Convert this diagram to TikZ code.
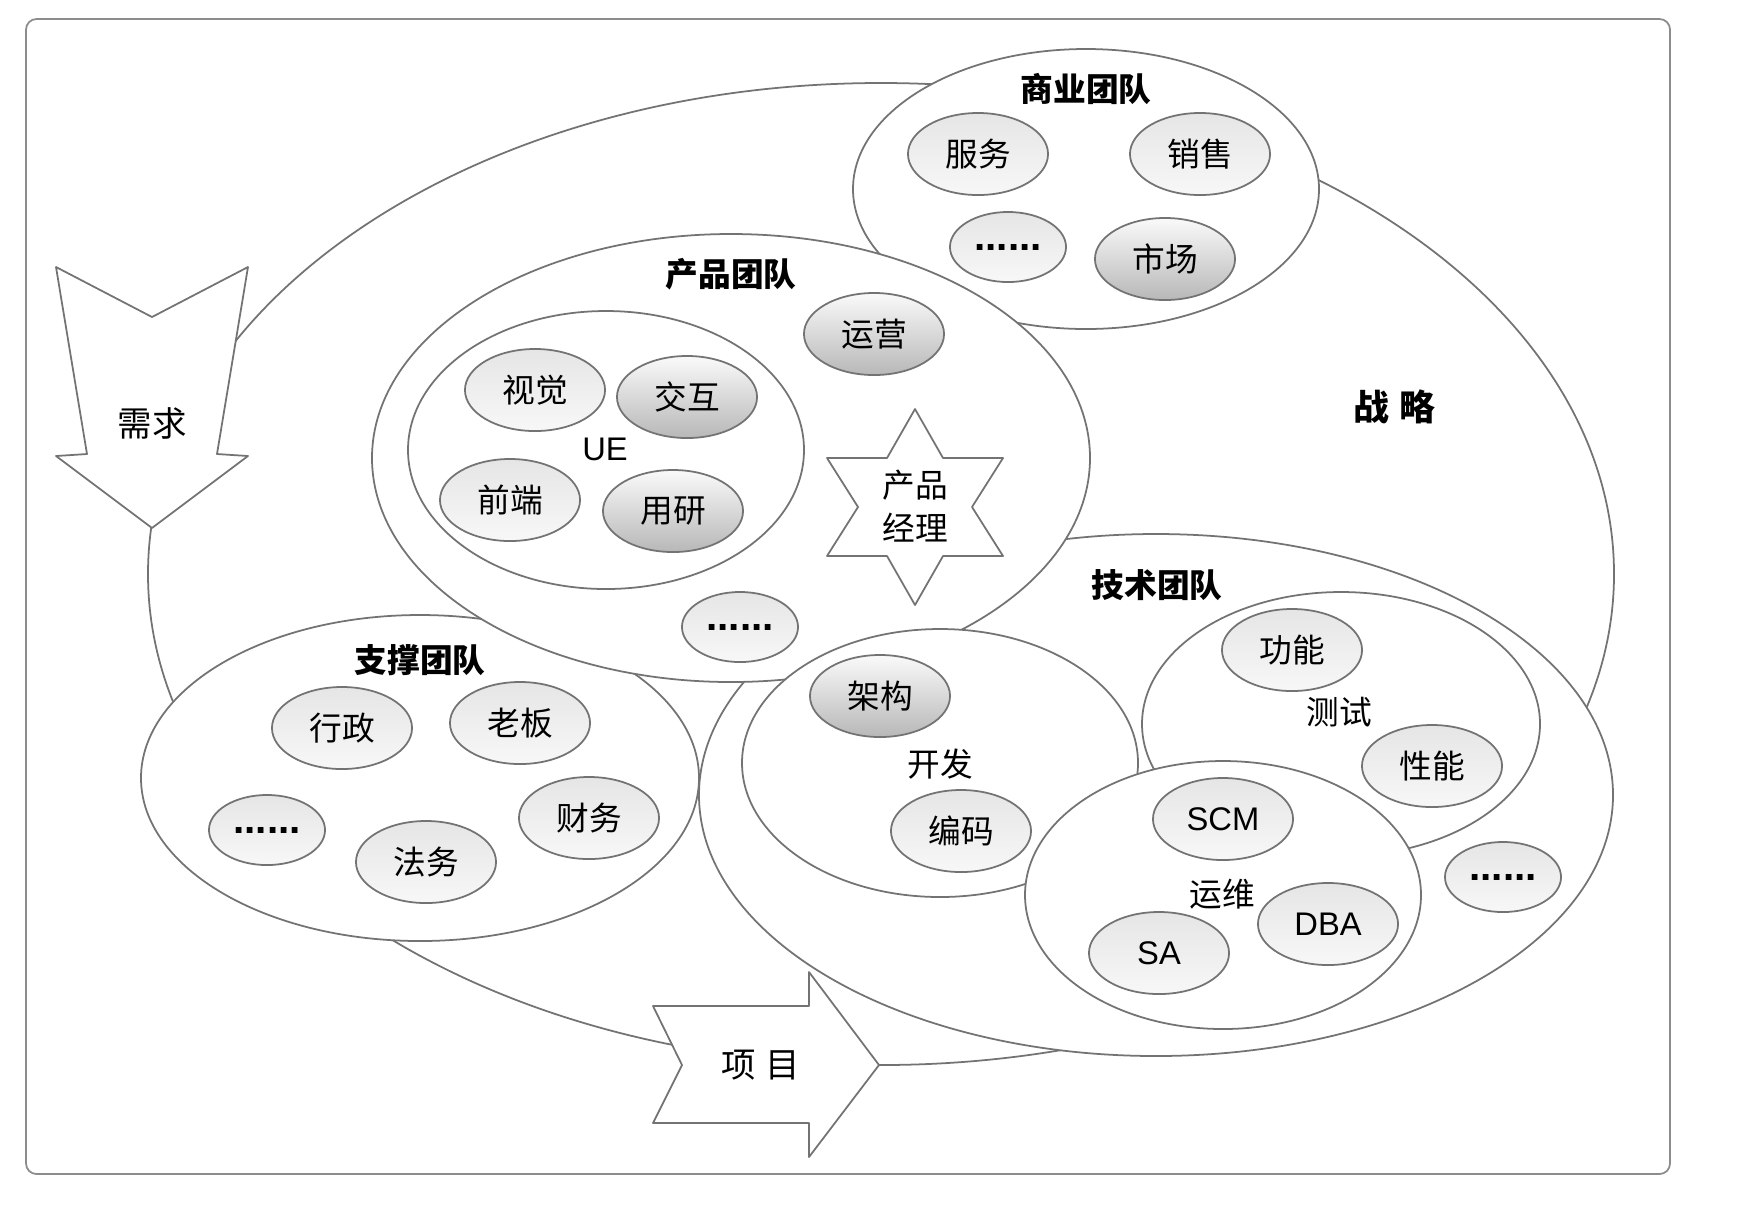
\documentclass[tikz,border=0pt]{standalone}
\usepackage{fontspec}
\newfontfamily\cjk{Noto Sans CJK SC}
\newfontfamily\lat{Liberation Sans}
\usetikzlibrary{shapes.geometric}
\tikzset{
  team/.style={draw=black!55, fill=white, line width=0.5pt},
  lite/.style={ellipse, draw=black!55, line width=0.5pt, top color=black!10, bottom color=black!3, minimum width=1.40cm, minimum height=0.82cm, inner sep=0pt},
  dark/.style={lite, top color=black!2, bottom color=black!28},
  more/.style={lite, minimum width=1.16cm, minimum height=0.70cm, font=\lat\bfseries\fontsize{11.5}{11}\selectfont},
  title/.style={font=\cjk\bfseries\fontsize{9.3}{11}\selectfont},
  latin/.style={font=\lat\fontsize{9.3}{11}\selectfont},
}
\begin{document}
\begin{tikzpicture}[x=0.01cm, y=-0.01cm, font=\cjk\fontsize{9.3}{11}\selectfont, line join=round, line cap=round]
  \useasboundingbox (0,0) rectangle (1758,1208);
  \draw[black!45, line width=0.5pt, rounded corners=3pt] (26,19) rectangle (1670,1174);

  % strategy
  \draw[team] (881,574) ellipse [x radius=733, y radius=491];
  \node[title, font=\cjk\bfseries\fontsize{10.2}{12}\selectfont] (strategy) at (1394,407) {战\hspace{0.28em}略};

  % business team
  \draw[team] (1086,189) ellipse [x radius=233, y radius=140];
  \node[title] (bizT) at (1086,89) {商业团队};
  \node[lite] (service) at (978,154) {服务};
  \node[lite] (sales) at (1200,154) {销售};
  \node[more] (bizMore) at (1008,247) {......};
  \node[dark] (market) at (1165,259) {市场};

  % support team
  \draw[team] (420,778) ellipse [x radius=279, y radius=163];
  \node[title] (supT) at (420,660) {支撑团队};
  \node[lite] (admin) at (342,728) {行政};
  \node[lite] (boss) at (520,723) {老板};
  \node[more] (supMore) at (267,830) {......};
  \node[lite] (legal) at (426,862) {法务};
  \node[lite] (finance) at (589,818) {财务};

  % tech team
  \draw[team] (1156,795) ellipse [x radius=457, y radius=261];
  \node[title] (techT) at (1157,585) {技术团队};
  \node[more] (techMore) at (1503,877) {......};

  % product team
  \draw[team] (731,458) ellipse [x radius=359, y radius=224];
  \node[title] (prodT) at (731,274) {产品团队};
  \draw[team] (606,450) ellipse [x radius=198, y radius=139];
  \node[latin] (ueL) at (605,449) {UE};
  \node[lite] (visual) at (535,390) {视觉};
  \node[dark] (interact) at (687,397) {交互};
  \node[lite] (front) at (510,500) {前端};
  \node[dark] (research) at (673,511) {用研};
  \node[dark] (operate) at (874,334) {运营};
  \node[more] (prodMore) at (740,627) {......};
  \draw[team] (915,409) -- (943,458) -- (1003,458) -- (972,507) -- (1003,556) -- (943,556) -- (915,605)
    -- (887,556) -- (827,556) -- (858,507) -- (827,458) -- (887,458) -- cycle;
  \node[align=center, font=\cjk\fontsize{9.3}{12.2}\selectfont] (pm) at (915,506) {产品\\经理};

  % dev, test, ops
  \draw[team] (940,763) ellipse [x radius=198, y radius=134];
  \node (devL) at (940,764) {开发};
  \node[dark] (arch) at (880,696) {架构};
  \node[lite] (code) at (961,831) {编码};
  \draw[team] (1341,724) ellipse [x radius=199, y radius=132];
  \node (testL) at (1339,712) {测试};
  \node[lite] (func) at (1292,650) {功能};
  \node[lite] (perf) at (1432,766) {性能};
  \draw[team] (1223,895) ellipse [x radius=198, y radius=134];
  \node (opsL) at (1222,894) {运维};
  \node[lite, latin] (scm) at (1223,819) {SCM};
  \node[lite, latin] (sa) at (1159,953) {SA};
  \node[lite, latin] (dba) at (1328,924) {DBA};

  % arrows
  \draw[team] (56,267) -- (152,317) -- (248,267) -- (217,454) -- (248,456) -- (152,528) -- (56,456) -- (87,454) -- cycle;
  \node[font=\cjk\fontsize{9.8}{11}\selectfont] (need) at (152,423) {需求};
  \draw[team] (653,1006) -- (809,1006) -- (809,972) -- (879,1065) -- (809,1157) -- (809,1123) -- (653,1123) -- (682,1065) -- cycle;
  \node[font=\cjk\fontsize{9.8}{11}\selectfont] (proj) at (761,1065) {项\hspace{0.28em}目};
\end{tikzpicture}
\end{document}
